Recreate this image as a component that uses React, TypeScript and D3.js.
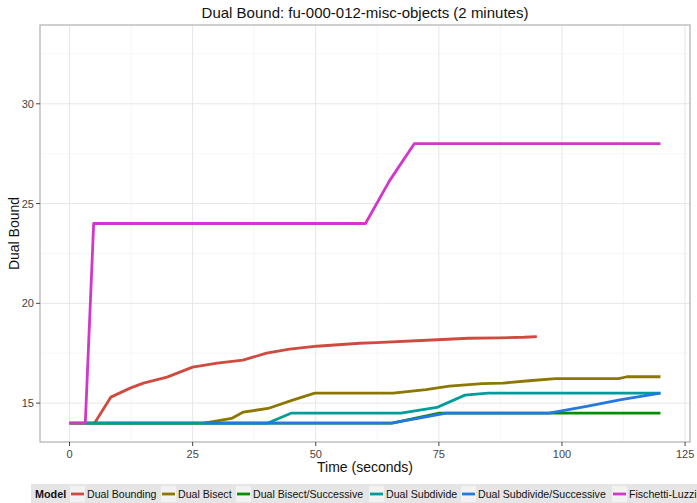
import React from "react";
import * as d3 from "d3";

const seriesNames = ["Dual Bounding", "Dual Bisect", "Dual Bisect/Successive", "Dual Subdivide", "Dual Subdivide/Successive", "Fischetti-Luzzi"];
const seriesColors = ["#CF4B40", "#8C7800", "#008F00", "#009C9C", "#2479E0", "#D236CB"];

const boundingT = [5.1, 8.4, 12.3, 15, 19.8, 25, 30, 35.2, 40, 44.7, 50.2, 58.9, 62.3, 72.5, 81, 87.3, 92.3, 94.9];
const boundingV = [14, 15.3, 15.75, 16, 16.3, 16.8, 17, 17.15, 17.5, 17.7, 17.85, 18, 18.03, 18.15, 18.25, 18.27, 18.3, 18.33];
const bisectT = [0, 27.3, 32.9, 35.3, 40.3, 45.3, 49.8, 65.7, 72.4, 77.1, 83.8, 88, 93.3, 98.7, 111.5, 113.2, 120];
const bisectV = [14, 14, 14.23, 14.55, 14.73, 15.15, 15.5, 15.5, 15.68, 15.85, 15.98, 16, 16.12, 16.23, 16.23, 16.32, 16.32];
const bisectSuccT = [0, 65.5, 75.1, 120];
const bisectSuccV = [14, 14, 14.5, 14.5];
const subdivideT = [3, 40.3, 45.1, 67.3, 74.6, 80.3, 85, 120];
const subdivideV = [14, 14, 14.5, 14.5, 14.78, 15.4, 15.5, 15.5];
const subdivideSuccT = [27.3, 65.4, 76.5, 97.4, 105, 112, 120];
const subdivideSuccV = [14, 14, 14.5, 14.5, 14.83, 15.17, 15.5];
const fischettiT = [0, 3.2, 4.9, 60.1, 65, 70, 120];
const fischettiV = [14, 14, 24, 24, 26.15, 28, 28];

const seriesT = [boundingT, bisectT, bisectSuccT, subdivideT, subdivideSuccT, fischettiT];
const seriesV = [boundingV, bisectV, bisectSuccV, subdivideV, subdivideSuccV, fischettiV];

const xTicks = [0, 25, 50, 75, 100, 125];
const xMinor = [12.5, 37.5, 62.5, 87.5, 112.5];
const yTicks = [15, 20, 25, 30];
const yMinor = [17.5, 22.5, 27.5, 32.5];

const title = "Dual Bound: fu-000-012-misc-objects (2 minutes)";
const xTitle = "Time (seconds)";
const yTitle = "Dual Bound";
const legendTitle = "Model";

const W = 697, H = 503;
const L = 40, R = 690, T = 25, B = 442;
const font = "'Liberation Sans', Arial, sans-serif";

export default function App() {
  const x = d3.scaleLinear().domain([-6, 126]).range([L, R]);
  const y = d3.scaleLinear().domain([13.05, 33.95]).range([B, T]);
  const line = d3.line<[number, number]>().x(d => x(d[0])).y(d => y(d[1]));

  const legendX = [70, 161, 236, 369, 461, 612];

  return (
    <svg width={W} height={H} style={{ position: "absolute", left: 0, top: 0, fontFamily: font }}>
      <rect x={0} y={0} width={W} height={H} fill="#fff" />
      <rect x={L} y={T} width={R - L} height={B - T} fill="#fff" />
      {xMinor.map(v => <line key={"xm" + v} x1={x(v)} x2={x(v)} y1={T} y2={B} stroke="#f4f4f4" strokeWidth={0.8} />)}
      {yMinor.map(v => <line key={"ym" + v} x1={L} x2={R} y1={y(v)} y2={y(v)} stroke="#f4f4f4" strokeWidth={0.8} />)}
      {xTicks.map(v => <line key={"xg" + v} x1={x(v)} x2={x(v)} y1={T} y2={B} stroke="#e6e6e6" strokeWidth={1} />)}
      {yTicks.map(v => <line key={"yg" + v} x1={L} x2={R} y1={y(v)} y2={y(v)} stroke="#e6e6e6" strokeWidth={1} />)}
      {seriesNames.map((n, i) => (
        <path key={n} d={line(seriesT[i].map((t, j) => [t, seriesV[i][j]] as [number, number])) || ""}
          fill="none" stroke={seriesColors[i]} strokeWidth={2.8} strokeLinejoin="round" />
      ))}
      <rect x={L} y={T} width={R - L} height={B - T} fill="none" stroke="#b0b0b0" strokeWidth={1.2} />
      {xTicks.map(v => (
        <g key={"xt" + v}>
          <line x1={x(v)} x2={x(v)} y1={B} y2={B + 4} stroke="#444" strokeWidth={1} />
          <text x={x(v)} y={B + 16} textAnchor="middle" fontSize={11} fill="#444">{v}</text>
        </g>
      ))}
      {yTicks.map(v => (
        <g key={"yt" + v}>
          <line x1={L - 4} x2={L} y1={y(v)} y2={y(v)} stroke="#444" strokeWidth={1} />
          <text x={L - 6} y={y(v) + 4} textAnchor="end" fontSize={11} fill="#444">{v}</text>
        </g>
      ))}
      <text x={(L + R) / 2} y={18} textAnchor="middle" fontSize={15} fill="#111">{title}</text>
      <text x={(L + R) / 2} y={472} textAnchor="middle" fontSize={14} fill="#111">{xTitle}</text>
      <text transform={`translate(19, ${(T + B) / 2}) rotate(-90)`} textAnchor="middle" fontSize={14} fill="#111">{yTitle}</text>
      <rect x={31} y={484} width={W - 31} height={19} fill="#e5e5e5" />
      <text x={35} y={498} fontSize={10.8} fontWeight="bold" fill="#111">{legendTitle}</text>
      {seriesNames.map((n, i) => (
        <g key={"lg" + n}>
          <rect x={legendX[i]} y={486} width={15} height={16} fill="#f2f2f2" />
          <line x1={legendX[i] + 1} x2={legendX[i] + 14} y1={494} y2={494} stroke={seriesColors[i]} strokeWidth={2.8} />
          <text x={legendX[i] + 17} y={498} fontSize={10.6} fill="#111">{n}</text>
        </g>
      ))}
    </svg>
  );
}
